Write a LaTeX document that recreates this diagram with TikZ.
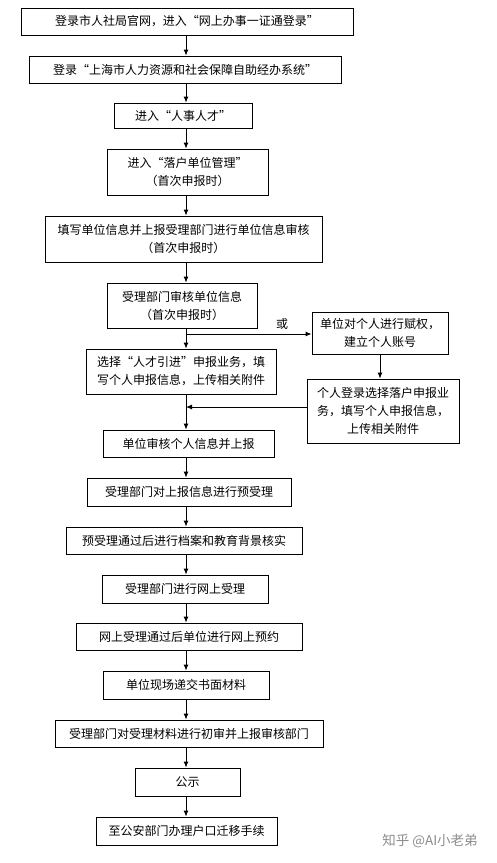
\documentclass[tikz,border=0pt]{standalone}
\usepackage{fontspec}
\newfontfamily\cjk{Noto Sans CJK SC}
\usetikzlibrary{arrows.meta}

\begin{document}
\begin{tikzpicture}[x=1pt,y=-1pt,
        box/.style={draw,line width=0.9pt,align=center,inner sep=0pt,
            font=\cjk\fontsize{12}{18}\selectfont},
        arr/.style={line width=0.9pt,-{Latex[length=6pt,width=5pt]}}]
            \useasboundingbox (0,0) rectangle (496,863);
            \coordinate (spine) at (186,0);
            % main column
            \node[box,minimum width=332,minimum height=27] (login) at (187,21.5) {登录市人社局官网，进入“网上办事一证通登录”};
            \node[box,minimum width=312,minimum height=27] (system) at (185,69.5) {登录“上海市人力资源和社会保障自助经办系统”};
            \node[box,minimum width=138,minimum height=25] (talent) at (183,115.5) {进入“人事人才”};
            \node[box,minimum width=161,minimum height=46] (manage) at (187.5,172) {进入“落户单位管理”\\（首次申报时）};
            \node[box,minimum width=277,minimum height=46] (fillunit) at (183.5,239) {填写单位信息并上报受理部门进行单位信息审核\\（首次申报时）};
            \node[box,minimum width=150,minimum height=45] (checkunit) at (182,305.5) {受理部门审核单位信息\\（首次申报时）};
            \node[box,minimum width=190,minimum height=45] (choose) at (181,371.5) {选择“人才引进”申报业务，填\\写个人申报信息，上传相关附件};
            \node[box,minimum width=171,minimum height=27] (unitcheck) at (188.5,443.5) {单位审核个人信息并上报};
            \node[box,minimum width=204,minimum height=28] (pre) at (189,492) {受理部门对上报信息进行预受理};
            \node[box,minimum width=236,minimum height=27] (archive) at (184,540.5) {预受理通过后进行档案和教育背景核实};
            \node[box,minimum width=166,minimum height=28] (accept) at (185,589) {受理部门进行网上受理};
            \node[box,minimum width=226,minimum height=27] (booking) at (189,636.5) {网上受理通过后单位进行网上预约};
            \node[box,minimum width=166,minimum height=28] (submit) at (186,685) {单位现场递交书面材料};
            \node[box,minimum width=268,minimum height=27] (review) at (189,733.5) {受理部门对受理材料进行初审并上报审核部门};
            \node[box,minimum width=105,minimum height=28] (notice) at (187.5,782) {公示};
            \node[box,minimum width=181,minimum height=28] (police) at (186.5,831) {至公安部门办理户口迁移手续};
            % side branch
            \node[box,minimum width=136,minimum height=42] (grant) at (380,333) {单位对个人进行赋权，\\建立个人账号};
            \node[box,minimum width=152,minimum height=64] (personal) at (383,411) {个人登录选择落户申报业\\务，填写个人申报信息，\\上传相关附件};
            \node[font=\cjk\fontsize{12}{14}\selectfont] (or) at (282,324) {或};
            \node[font=\cjk\fontsize{13.5}{16}\selectfont,text=black!45] (mark) at (430,841) {知乎 @AI小老弟};

            \coordinate (fork) at (186,334);
            \coordinate (join) at (186,407);
            \foreach \a/\b in {login/system,system/talent,talent/manage,manage/fillunit,fillunit/checkunit,
                checkunit/choose,choose/unitcheck,unitcheck/pre,pre/archive,archive/accept,accept/booking,
                booking/submit,submit/review,review/notice,notice/police}
                \draw[arr] (\a.south -| spine) -- (\b.north -| spine);
            \draw[arr] (fork) -- (fork -| grant.west);
            \draw[arr] (grant.south) -- (grant.south |- personal.north);
            \draw[arr] (join -| personal.west) -- (join);
        \end{tikzpicture}
\end{document}
